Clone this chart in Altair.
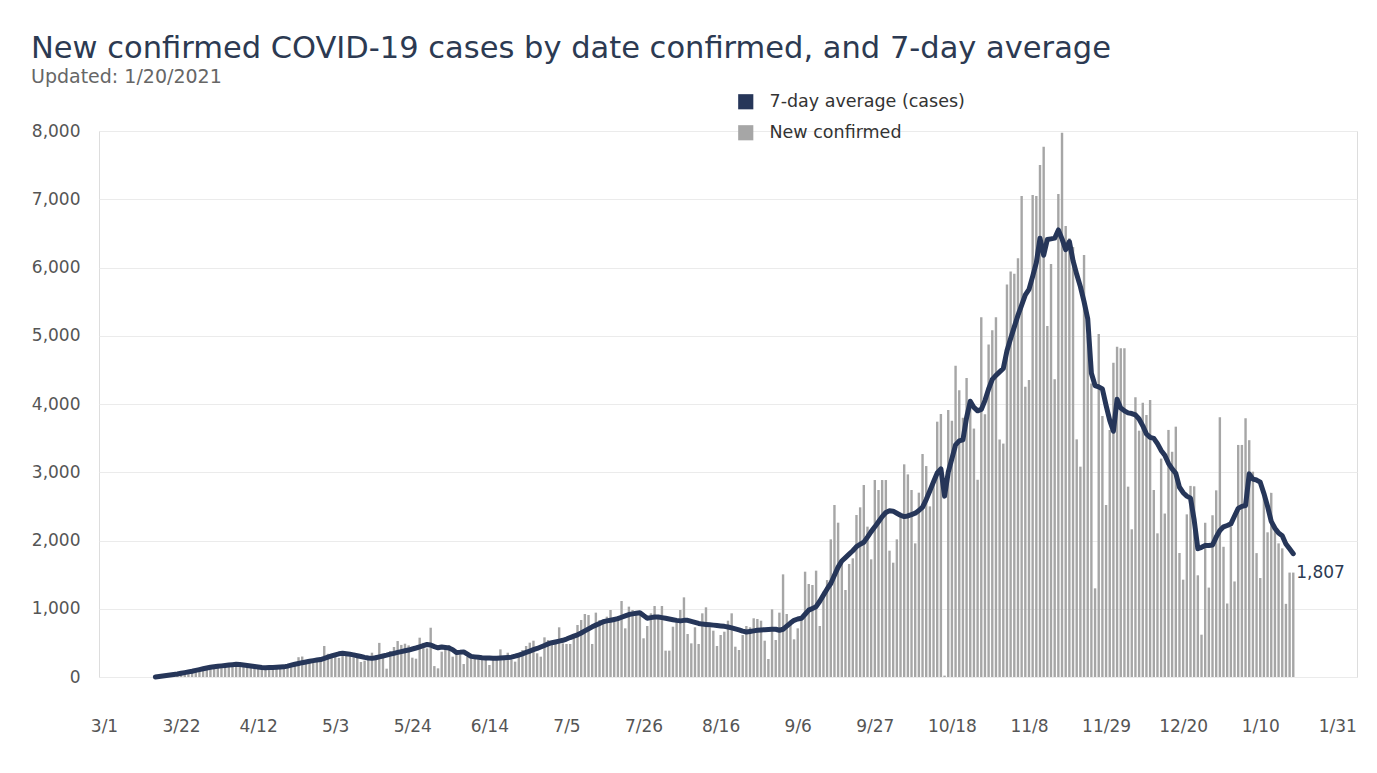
import altair as alt
import pandas as pd

# ---------------- data ----------------
new_mar = [8, 15, 20, 35, 40, 50, 65, 55, 60, 80, 90, 95, 110, 125, 110, 140, 160]
new_apr = [150, 180, 170, 165, 160, 200, 190, 170, 160, 150, 140, 120, 130, 145, 140, 160, 150, 140,
           130, 165, 185, 210, 290, 300, 230, 220, 250, 270, 280, 454]
new_may = [340, 300, 310, 280, 360, 330, 300, 300, 280, 220, 240, 280, 356, 320, 500, 300,
           122, 380, 440, 527, 470, 488, 463, 283, 268, 576, 500, 420, 722, 160, 127]
new_jun = [371, 444, 469, 298, 337, 322, 190, 298, 273, 273, 259, 249, 249, 176, 264, 298, 405, 259,
           356, 249, 225, 322, 396, 454, 503, 532, 347, 298, 581, 542]
new_jul = [493, 542, 728, 493, 484, 484, 630, 762, 835, 923, 908, 484, 943, 835, 811, 884, 982, 811,
           894, 1114, 713, 1031, 982, 933, 933, 567, 747, 933, 1040, 884, 1040]
new_aug = [386, 386, 737, 845, 982, 1167, 630, 493, 728, 484, 933, 1021, 728, 679, 454, 615, 664, 825,
           933, 444, 396, 615, 747, 728, 860, 850, 825, 532, 264, 991, 542]
new_sep = [943, 1504, 923, 796, 552, 713, 855, 1543, 1363, 1348, 1558, 747, 1250, 1420, 2017, 2520,
           2261, 1665, 1275, 1656, 1739, 2374, 2486, 2813, 2203, 1724, 2886, 2740, 2886, 2886]
new_oct = [1851, 1675, 2017, 2398, 3116, 2969, 2740, 1958, 2701, 3267, 3091, 2500, 2900, 3741, 3853,
           20, 3912, 3756, 4560, 4200, 3800, 4380, 4070, 3640, 2890, 5270, 3850, 4870, 5080, 5270, 3480]
new_nov = [3420, 5750, 5940, 5910, 6134, 7048, 4254, 4352, 7062, 7048, 7502, 7770, 5143, 6051, 4361,
           7077, 7976, 6608, 6427, 6300, 3482, 3082, 6183, 5000, 4300, 1299, 5026, 3824, 2520, 3619]
new_dec = [4606, 4840, 4816, 4816, 2789, 2164, 4098, 3609, 4020, 3839, 4059, 2740, 2105, 3200, 2395,
           3620, 3300, 3668, 1817, 1426, 2383, 2800, 2794, 1490, 620, 2260, 1310, 2370, 2735, 3805, 1908]
new_jan = [1077, 2200, 1400, 3400, 3400, 3790, 3470, 3008, 1815, 1450, 2650, 2120, 2698, 2154, 1958,
           1885, 1072, 1530, 1530]

avg_mar = [0, 7, 15, 22, 29, 37, 44, 54, 64, 75, 85, 97, 108, 120, 131, 142, 151]
avg_apr = [157, 163, 169, 175, 180, 186, 182, 175, 168, 160, 153, 146, 138, 137, 138, 140, 143, 146,
           149, 160, 174, 187, 198, 210, 220, 230, 240, 248, 256, 272]
avg_may = [290, 308, 325, 340, 347, 340, 332, 324, 312, 300, 288, 278, 273, 282, 295, 308, 320, 335,
           347, 360, 372, 385, 395, 410, 425, 442, 460, 476, 470, 445, 428]
avg_jun = [440, 432, 425, 400, 360, 362, 368, 335, 302, 295, 288, 282, 279, 277, 276, 275, 278, 281,
           285, 290, 305, 322, 340, 360, 380, 400, 418, 440, 462, 485]
avg_jul = [502, 513, 525, 538, 556, 578, 598, 618, 645, 675, 705, 735, 760, 785, 810, 822, 832, 843,
           855, 875, 895, 915, 925, 933, 940, 900, 862, 870, 878, 880, 870]
avg_aug = [860, 850, 840, 830, 822, 830, 830, 815, 800, 785, 775, 770, 765, 760, 754, 748, 742, 732,
           720, 705, 690, 672, 660, 668, 676, 684, 690, 693, 696, 698, 700]
avg_sep = [685, 700, 745, 790, 830, 850, 860, 920, 980, 1005, 1030, 1110, 1200, 1290, 1370, 1490, 1610,
           1700, 1750, 1800, 1850, 1910, 1945, 1975, 2050, 2130, 2200, 2275, 2350, 2410]
avg_oct = [2435, 2430, 2400, 2370, 2350, 2360, 2380, 2400, 2440, 2490, 2600, 2730, 2860, 2990, 3050,
           2650, 3000, 3200, 3400, 3460, 3475, 3800, 4040, 3950, 3900, 3920, 4050, 4220, 4360, 4420, 4470]
avg_nov = [4520, 4780, 4960, 5130, 5300, 5450, 5600, 5680, 5870, 6070, 6430, 6180, 6410, 6420, 6430,
           6550, 6420, 6260, 6380, 6100, 5900, 5720, 5500, 5250, 4450, 4270, 4250, 4220, 3980, 3760]
avg_dec = [3600, 4070, 3940, 3900, 3870, 3860, 3840, 3780, 3680, 3560, 3510, 3497, 3420, 3320, 3250,
           3131, 3050, 2984, 2780, 2700, 2650, 2620, 2300, 1880, 1900, 1927, 1927, 1934, 2050, 2146, 2200]
avg_jan = [2220, 2244, 2360, 2471, 2500, 2512, 2976, 2900, 2886, 2854, 2690, 2500, 2280, 2180, 2110,
           2070, 1950, 1880, 1807]

first_day = "2020-03-15"
tick_dates = ["2020-03-01", "2020-03-22", "2020-04-12", "2020-05-03", "2020-05-24", "2020-06-14",
              "2020-07-05", "2020-07-26", "2020-08-16", "2020-09-06", "2020-09-27", "2020-10-18",
              "2020-11-08", "2020-11-29", "2020-12-20", "2021-01-10", "2021-01-31"]
y_ticks = [0, 1000, 2000, 3000, 4000, 5000, 6000, 7000, 8000]
series_names = ["7-day average (cases)", "New confirmed"]

# ---------------- build table ----------------
new_cases = new_mar + new_apr + new_may + new_jun + new_jul + new_aug + new_sep + new_oct + new_nov + new_dec + new_jan
avg_cases = avg_mar + avg_apr + avg_may + avg_jun + avg_jul + avg_aug + avg_sep + avg_oct + avg_nov + avg_dec + avg_jan
dates = pd.date_range(first_day, periods=len(new_cases), freq="D")
df = pd.DataFrame({"date": dates.strftime("%Y-%m-%dT00:00:00"), "new": new_cases,
                   "avg": avg_cases, "series": series_names[1]})
last_df = df.tail(1)

NAVY = "#263659"
GRAY = "#a6a6a6"
FONT = "DejaVu Sans"


def dt(s):
    y, m, d = (int(p) for p in s.split("-"))
    return alt.DateTime(year=y, month=m, date=d)


x_enc = alt.X(
    "date:T",
    scale=alt.Scale(domain=[dt("2020-03-01"), dt("2021-02-04")]),
    axis=alt.Axis(values=[dt(s) for s in tick_dates], format="%-m/%-d", title=None,
                  labelFlush=True, labelFlushOffset=-5, grid=False, domain=False, ticks=False,
                  labelPadding=41, labelFontSize=17, labelColor="#555555", labelFont=FONT),
)
y_scale = alt.Scale(domain=[0, 8000])

bars = alt.Chart(df).mark_bar(size=2.4).encode(
    x=x_enc,
    y=alt.Y("new:Q", scale=y_scale,
            axis=alt.Axis(values=y_ticks, format=",d", title=None, domain=False, ticks=False,
                          grid=True, gridColor="#ebebeb", gridWidth=1,
                          labelPadding=19, labelFontSize=17, labelColor="#555555", labelFont=FONT)),
    color=alt.Color("series:N",
                    scale=alt.Scale(domain=series_names, range=[NAVY, GRAY]),
                    legend=alt.Legend(orient="none", legendX=638, legendY=-38, title=None,
                                      symbolType="square", symbolSize=230, symbolStrokeWidth=0,
                                      labelFontSize=17.5, labelColor="#333333", labelFont=FONT,
                                      labelLimit=400, rowPadding=12, labelOffset=15, padding=0)),
)

line = alt.Chart(df).mark_line(color=NAVY, strokeWidth=5, strokeJoin="round", strokeCap="round").encode(
    x="date:T",
    y=alt.Y("avg:Q", scale=y_scale),
)

end_label = alt.Chart(last_df).mark_text(align="left", baseline="middle", dx=3, dy=19,
                                         fontSize=17, font=FONT, color="#2c3a52").encode(
    x="date:T",
    y=alt.Y("avg:Q", scale=y_scale),
    text=alt.Text("avg:Q", format=",d"),
)

chart = alt.layer(bars, line, end_label).properties(
    width=1258,
    height=546,
    padding={"left": 91, "top": 123, "right": 10, "bottom": 60},
    autosize=alt.AutoSizeParams(type="none"),
    title=alt.TitleParams(
        text="New confirmed COVID-19 cases by date confirmed, and 7-day average",
        subtitle="Updated: 1/20/2021",
        anchor="start", frame="group", dx=-68, offset=6,
        font=FONT, fontSize=30.5, fontWeight="normal", color="#2c3a52",
        subtitleFont=FONT, subtitleFontSize=19, subtitleColor="#666666", subtitlePadding=4,
    ),
).configure_view(stroke=None).configure(background="white")

chart.save("out.html", embed_options={"renderer": "svg", "actions": False})
